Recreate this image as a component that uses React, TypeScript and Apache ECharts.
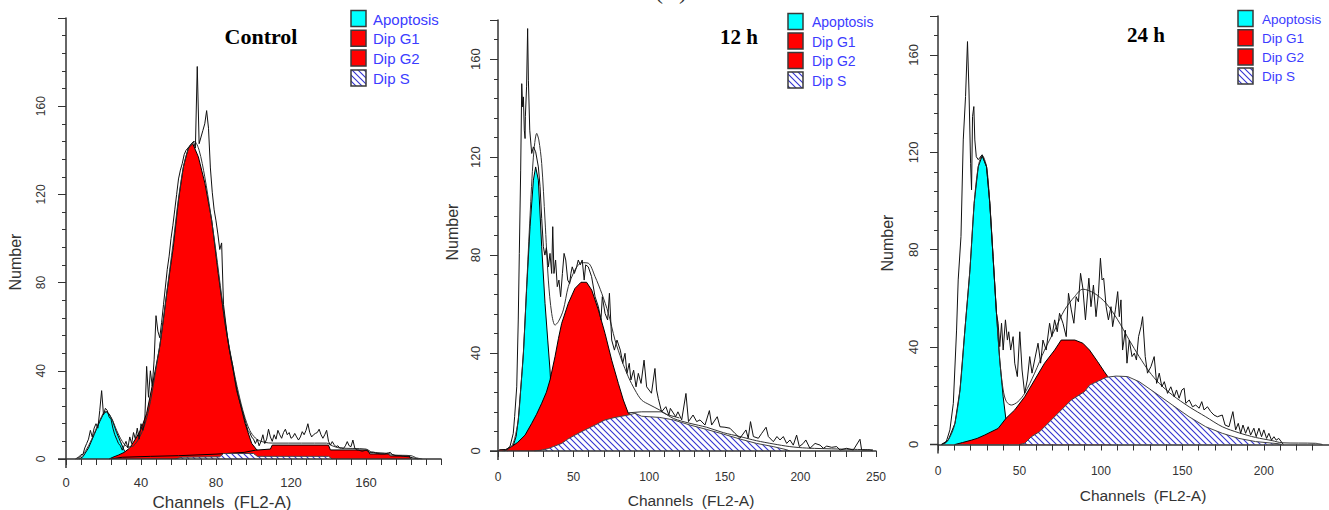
import React, { useEffect, useRef } from "react";
import * as echarts from "echarts";

// ---------- Control panel ----------
const ctrlXLabels = [0, 40, 80, 120, 160];
const ctrlYLabels = [0, 40, 80, 120, 160];
const ctrlApoptosis = [[7,0],[9,1],[12,5],[15,11],[18,17],[20,20.5],[21.5,21.5],[23,20.5],[25,17],[27,12],[29,8],[31,4],[33,1.5],[34,0]];
const ctrlG1 = [[23,0],[25,0.8],[28,1.8],[31,3],[34,5],[37.7,10],[40,13.5],[43,20.7],[46.6,35.8],[50,51],[53.7,75],[57.2,96],[60,117.5],[62.6,132.5],[65.2,141],[67.6,143],[70.6,137],[74.1,125],[77.7,108.4],[81.2,84],[84.8,61.5],[88.4,43.4],[92,28.3],[95.5,16.2],[99,7.1],[101.7,4.2],[104,3],[106,0]];
const ctrlG2 = [[24,0],[30,0.8],[45,1.2],[60,1.5],[80,2.2],[95,3],[101,4],[109,4.5],[110,6.3],[140,6.3],[141,4.1],[161,4.1],[162,2.3],[172,2.3],[173,1.4],[183,1.4],[184,0]];
const ctrlS = [[58,0],[62,0.8],[82,1],[84,2.5],[100,2.5],[102,1.2],[140,1.2],[142,0]];
const ctrlFit = [[6,0],[9,2],[12,6],[15,11.5],[18,17.5],[21,21.5],[24,19],[27,13],[30,8],[33,5.5],[36,6],[39,9.5],[42,15.5],[45,26],[48,41],[51,57],[54,77],[57,97],[60,118],[63,134],[66,142],[68.5,144],[71,140],[74,128],[77,112],[80,94],[83,74],[86,56],[89,42],[92,30],[95,20],[98,13],[101,9.5],[104,8],[108,7.3],[112,7.2],[139,7.2],[142,6],[146,5],[160,4.5],[163,3.2],[172,2.5],[175,1.8],[184,1.5],[187,0.5],[190,0]];
const ctrlRaw = [[5,0],[7,1],[8,2],[9,2],[10,5],[11,7],[12,9],[13,13],[14,10],[15,14],[16,16],[17,14],[18,22],[19,31],[20,20],[21,23],[22,22],[23,19],[24,18],[25,14],[26,11],[27,9],[28,7],[29,6],[30,4],[31,6],[32,8],[33,5],[34,10],[35,7],[36,12],[37,9],[38,14],[39,9],[40,16],[41,13],[42,17],[43,42],[44,28],[45,40],[46,33],[47,45],[48,65],[49,58],[50,55],[51,62],[52,70],[53,78],[54,86],[55,92],[56,100],[57,106],[58,113],[59,120],[60,127],[61,131],[62,134],[63,138],[64,140],[65,141],[66,142],[67,143],[68,144],[69,141],[70,178],[71,143],[72,146],[73,149],[74,152],[75,158],[76,150],[77,132],[78,121],[79,113],[80,108],[81,102],[82,95],[83,98],[84,70],[85,63],[86,56],[87,50],[88,46],[89,42],[90,36],[91,31],[92,28],[93,25],[94,22],[95,19],[96,16],[97,13],[98,12],[99,10],[100,9],[101,7],[102,9],[103,6],[104,8],[105,11],[106,7],[107,9],[108,13.5],[109,10],[110,8],[111,11],[112,9],[113,13],[114,11],[115,9.4],[116,12],[117,13.5],[118,11],[119,12],[120,9.4],[121,10],[122,11.6],[123,10],[124,8.6],[125,10],[126,12.4],[127,11],[128,13],[129,16],[130,12],[131,10],[132,11],[133,11.6],[134,12],[135,13.5],[136,11],[137,9.4],[138,11],[139,13],[140,8],[141,6.3],[142,7.9],[143,6.5],[144,5.6],[145,6],[146,5],[147,5],[148,4.8],[149,6],[150,7.9],[151,6],[152,5.6],[153,8.6],[154,5],[155,4.1],[156,4],[158,3.5],[160,4],[162,3],[164,3],[166,2.5],[168,2.3],[170,2.3],[172,2.8],[173,3],[174,2],[176,1.5],[178,1.5],[180,1.2],[183,1],[185,0.5],[188,0]];

// ---------- 12 h panel ----------
const h12XLabels = [0, 50, 100, 150, 200, 250];
const h12YLabels = [0, 40, 80, 120, 160];
const h12Apoptosis = [[6,0],[8,0.5],[10,2],[12,6],[13.4,12.7],[15,25],[16.8,40],[19,67],[21.2,91.6],[23.4,110.6],[24.9,116],[26.7,110.6],[28.9,83.4],[31.1,60.3],[32.9,45.3],[34.4,33.1],[35.5,20],[37,0]];
const h12G1 = [[0,0],[1,0.5],[5,0.6],[9,1.8],[13,3.5],[17.9,6.5],[22.3,11.3],[25.5,15],[28.9,19.5],[32,24],[34.4,29],[37.7,38.5],[40,46],[42.1,52.1],[46.5,60.3],[50.9,66.4],[54.9,68.9],[58.6,68.9],[62,65.7],[66.4,57.6],[70.8,48],[75.2,37.1],[79.6,27.6],[82.9,20.8],[86.2,15.4],[88,14.9],[90,0]];
const h12G2 = [[86,15.6],[95,16],[108,16],[112,14.8],[120,13.5]];
const h12S = [[24,0],[28,0.3],[33.3,1],[36.6,1.8],[42.1,3.1],[46,4.8],[50.9,6.5],[57.5,8.6],[64.2,10.6],[70.8,12.7],[77.4,13.7],[86.2,14.7],[90.6,15.4],[95,14.2],[107,13.7],[116,12.7],[127,10.6],[138,8.8],[149,6.9],[160,4.9],[171,3.1],[182,1.8],[191,0.5],[193,0]];
const h12Fit = [[3,0],[6,0.5],[9,2],[11,5],[13.4,12.7],[15,25],[16.8,40],[19,68],[21.2,96],[23.4,120],[25.6,129.7],[27,127],[28.9,117.4],[31.1,94.3],[33.3,69.8],[35.5,56.2],[37.7,51.4],[39.9,52.8],[43.2,57.6],[46.5,67.1],[50.9,73.9],[55.3,76.9],[59.7,76.7],[64.2,71.2],[68.6,64.4],[73,56.2],[77.4,45.3],[81.8,37.1],[86.2,30.3],[90.6,24.9],[95,20.8],[100.5,18.8],[107,16.7],[116,13.3],[127,11.3],[138,9.7],[149,7.5],[160,5.9],[171,4.2],[182,2.9],[193,1.8],[204,1.2],[226,0.8],[248,0.5]];
const h12Raw = [[4,0],[5.7,0.5],[8,2],[10.1,7.2],[11,14],[12.4,26.2],[13.4,53.5],[14.1,80.7],[15,114.7],[15.7,150],[16.3,140.5],[16.8,144.6],[17.4,131],[17.9,127.6],[18.1,136.5],[18.9,148.7],[19.6,172.5],[20.1,151.4],[21,131],[22.3,121.5],[23.4,124.2],[24.9,122.2],[26.7,116],[27.8,108],[28.9,95],[30,83.4],[31,80],[32,83],[33.3,75.2],[34.4,80.7],[35.5,72.5],[36.2,91.6],[37,72.5],[38.1,78],[39.2,67.1],[40.3,69.8],[41.4,63],[42.6,72.5],[43.7,80.7],[44.8,78],[46.1,69.8],[47.4,68.4],[48.2,72.5],[49.1,75.2],[50.5,72.5],[52,75.2],[53.1,78],[54.4,76],[55.7,78],[57,69.8],[58,76],[59.7,75.2],[61.9,71.2],[64.2,63],[66.4,58.9],[68.1,53.5],[69,63],[70.8,56.2],[72.5,53.5],[73.7,64.4],[75.2,45.3],[77,41.2],[78.7,45.3],[80.9,41.2],[82.5,35.8],[84,39.9],[85.3,31.7],[86.8,35.8],[87.9,29],[89.7,33],[91.3,26.2],[92.8,31.7],[94.6,27.6],[96.6,37.1],[98.3,26.2],[99.9,24.9],[101.5,23.6],[103.8,33.7],[104.9,24.9],[106,21.5],[108.2,16],[111,18.1],[113,14.7],[114,17.4],[117.5,14],[119,16],[121.5,12.7],[124.3,23.5],[126,12],[129,14.7],[131.4,12],[133.6,12.7],[136.9,10.6],[139.8,16.5],[141.3,10.6],[145,14],[146.8,9.9],[150.1,9.7],[153.4,9.3],[156.7,7.2],[160,5.2],[164,8.6],[165.5,5.2],[167,12],[168.9,5.9],[172.2,5.2],[174.4,7.2],[177.3,9.7],[178.8,5.9],[182.1,3.8],[184.5,5.9],[186.5,4.5],[188.7,5.9],[190.9,3.1],[193.1,4.5],[195.3,2.4],[197.5,6.5],[199.3,1.8],[201.9,3.1],[203.6,4.5],[206.3,1.1],[209.7,3.1],[213,2.4],[215.2,1.1],[217.4,2],[220.7,1.5],[224,1.8],[226.2,0.4],[230.6,1.1],[235,0.4],[239.4,4.8],[240.5,0.4],[246,0.4],[248,0]];

// ---------- 24 h panel ----------
const h24XLabels = [0, 50, 100, 150, 200];
const h24YLabels = [0, 40, 80, 120, 160];
const h24Apoptosis = [[2.2,0],[6.3,1.8],[10.4,8.7],[13.5,22.4],[16.5,47],[19.6,71.7],[22.2,99.1],[24.7,114.1],[27.1,118.5],[29.8,114.1],[31.8,99.1],[33.8,77.2],[35.9,53.9],[37.9,34.7],[40,19.6],[41.6,10.8],[42.5,4],[43,0]];
const h24G1 = [[10.4,0],[15,0.8],[20.6,1.8],[24,2.5],[28.7,3.9],[32,5],[36.9,6.6],[41.8,10.8],[47.1,14.2],[53.2,19.6],[59.3,26.5],[65.4,33.4],[71.6,38.8],[75.6,42.9],[84,42.9],[88.9,41.6],[93,38.8],[98,34],[102.1,29.9],[104.2,27.9],[106,0]];
const h24S = [[50,0],[53.2,0.5],[57.3,3.2],[62.4,5.3],[65.4,7.3],[73.6,12.8],[81.8,18.3],[89.9,21.7],[93,24.4],[103.2,27.6],[109.3,28.1],[116.4,27.9],[123.5,25.8],[133.8,21],[143.9,16.2],[154.1,11.4],[164.3,7.3],[174.5,4.6],[184.7,2.5],[194.9,1.2],[209.2,0.3],[211,0]];
const h24Fit = [[2,0],[5,0.8],[8,4],[10.4,8.7],[13.5,22.4],[16.5,47],[19.6,71.7],[22.2,99.1],[24.7,114.1],[27.1,118.8],[29.8,114.1],[31.8,99.1],[33.8,77.2],[35.9,53.9],[37.9,34.7],[40,22.4],[42,17.6],[45,16.2],[49.1,17.6],[53.2,21],[59.3,29.3],[65.4,38.8],[71.6,47],[77.7,55.3],[83.8,60.7],[88.9,63.8],[96,62.1],[103.2,58],[110.3,51.2],[117.4,42.9],[123.5,36.1],[129.7,29.9],[135.8,25.1],[143.9,20.3],[154.1,15.5],[164.3,11.4],[174.5,7.3],[184.7,4.8],[194.9,2.9],[205.1,1.6],[211.2,0.7],[231.6,0.5],[236,0]];
const h24Raw = [[2,0],[5,1],[7.3,6],[9.4,16.9],[11.4,47],[12.4,67.6],[14.1,85.4],[15.5,125.1],[16.9,142.9],[18.1,165.5],[19,145.6],[20,115.5],[20.6,104.6],[21.2,134.7],[22,138.8],[22.6,125.1],[23.5,118.2],[24.7,117],[27.1,119],[29.8,114],[31.8,99],[33.8,77],[35.9,53.9],[36.9,49.8],[37.9,40.2],[39,49.8],[40,38.8],[41.4,51.2],[42.6,42.9],[43.4,46.3],[44.6,38.8],[46.1,44.3],[47.1,33.4],[48.7,27.9],[50.2,46.3],[51.6,30.6],[53.2,21],[54.8,26.5],[56.3,36.1],[57.7,29.3],[59.3,34.7],[61.4,41.6],[63,33.4],[64.4,42.9],[66.4,38.8],[68.5,49.8],[69.9,44.3],[71.6,51.2],[73.2,46.3],[74.6,53.9],[76.7,49.8],[78.7,44.3],[80.1,62.1],[81.8,55.3],[83.4,49.8],[84.8,60.7],[86.2,58.6],[87.5,70.3],[88.9,64.2],[90.5,51.2],[92.6,68.3],[93.9,56.6],[95.4,65.5],[97,52.5],[98.5,62.1],[99.7,76.5],[100.7,67.6],[101.7,68.3],[103.2,56.6],[104.6,51.2],[106.2,56.6],[107.2,48.4],[108.9,55.3],[110.3,62.8],[111.3,52.5],[112.3,59.4],[113.3,38.8],[115,47],[116,33.4],[117.4,42.9],[119.1,36.1],[120.5,37.5],[121.8,34.7],[123.1,44.3],[124.6,48.4],[125.6,52.5],[127.2,36.1],[128.6,29.3],[130.7,32],[132.7,36.1],[134.2,25.1],[135.8,29.3],[137.4,23.7],[138.9,25.8],[140.9,21],[142.9,23.7],[145,19.6],[146.4,22.4],[148,19],[149.7,22.4],[151.1,23.1],[152.1,16.9],[154.2,18.3],[156.2,15.5],[158.2,16.2],[160.3,14.9],[161.9,17.6],[163.3,14.2],[165.4,15.5],[167.4,13.5],[169.4,12.1],[171.5,11.4],[174.5,12.1],[176.2,8],[178.6,7.3],[181,13.5],[182.7,6],[184.3,8.7],[185.8,4.6],[187.2,8],[188.8,4.6],[190.4,7.3],[191.9,3.9],[193.9,6.7],[195.3,3.2],[197,6.7],[198.6,3.2],[200,6],[201.7,2.5],[203.1,4.6],[204.7,1.8],[206.2,3.2],[207.6,1.8],[209.2,2.5],[211.2,0.7],[212,0]];

const legendNames = ["Apoptosis", "Dip G1", "Dip G2", "Dip S"];
const panelTitles = ["Control", "12 h", "24 h"];

const SANS = '"Liberation Sans", Arial, sans-serif';
const SERIF = '"Liberation Serif", "Times New Roman", serif';
const AXIS = "#333";
const CYAN = "#00ffff";
const RED = "#ff0000";
const LEGEND_TEXT = "#3c3cff";

function makeHatch() {
  const s = 6;
  const c = document.createElement("canvas");
  c.width = s;
  c.height = s;
  const g = c.getContext("2d")!;
  g.fillStyle = "#ffffff";
  g.fillRect(0, 0, s, s);
  g.strokeStyle = "#3434d0";
  g.lineWidth = 1.1;
  g.beginPath();
  g.moveTo(0, 0); g.lineTo(s, s);
  g.moveTo(-1, s - 1); g.lineTo(1, s + 1);
  g.moveTo(s - 1, -1); g.lineTo(s + 1, 1);
  g.stroke();
  return { image: c.toDataURL(), repeat: "repeat", imageWidth: s, imageHeight: s };
}

const panels = [
  {
    grid: { left: 66, top: 18, width: 375, height: 441 },
    xMax: 200, xStep: 8, xLabels: ctrlXLabels, xFs: 13, xMargin: 17,
    yMax: 200, yLabels: ctrlYLabels, yFs: 12, yMargin: 19,
    data: { apo: ctrlApoptosis, g1: ctrlG1, g2: ctrlG2, s: ctrlS, fit: ctrlFit, raw: ctrlRaw, g2Fill: true },
    title: { x: 261, y: 36, fs: 22 },
    yName: { x: 15, y: 262, fs: 16 },
    xName: { x: 222, y: 502, fs: 17 },
    legend: { x: 351, y: 10.5, dy: 19.8, fs: 15, tx: 373 },
  },
  {
    grid: { left: 498, top: 20, width: 378, height: 431 },
    xMax: 250, xStep: 10, xLabels: h12XLabels, xFs: 12, xMargin: 20,
    yMax: 176, yLabels: h12YLabels, yFs: 13, yMargin: 16,
    data: { apo: h12Apoptosis, g1: h12G1, g2: h12G2, s: h12S, fit: h12Fit, raw: h12Raw, g2Fill: false },
    title: { x: 739, y: 37, fs: 21 },
    yName: { x: 452, y: 232, fs: 16 },
    xName: { x: 691, y: 500, fs: 15.5 },
    legend: { x: 788, y: 13.5, dy: 19.5, fs: 14, tx: 812 },
  },
  {
    grid: { left: 938, top: 16, width: 391, height: 428.5 },
    xMax: 240, xStep: 10, xLabels: h24XLabels, xFs: 12, xMargin: 20,
    yMax: 176, yLabels: h24YLabels, yFs: 13, yMargin: 18,
    data: { apo: h24Apoptosis, g1: h24G1, g2: null as any, s: h24S, fit: h24Fit, raw: h24Raw, g2Fill: false },
    title: { x: 1146, y: 35, fs: 21 },
    yName: { x: 887, y: 243, fs: 16 },
    xName: { x: 1143, y: 495, fs: 15.5 },
    legend: { x: 1238, y: 10.5, dy: 19.2, fs: 13.5, tx: 1262 },
  },
];

function buildOption() {
  const hatch = makeHatch();
  const grid: any[] = [];
  const xAxis: any[] = [];
  const yAxis: any[] = [];
  const series: any[] = [];
  const graphic: any[] = [];

  panels.forEach((p, i) => {
    grid.push({ ...p.grid, containLabel: false, outerBoundsMode: "none" });
    xAxis.push({
      type: "value", gridIndex: i, min: 0, max: p.xMax, interval: p.xStep,
      position: "bottom", z: 20,
      axisLine: { show: true, onZero: false, lineStyle: { color: AXIS, width: 1.5 } },
      axisTick: { show: true, length: 6, lineStyle: { color: AXIS, width: 1 } },
      splitLine: { show: false },
      axisLabel: {
        show: true, margin: p.xMargin, fontSize: p.xFs, color: AXIS, fontFamily: SANS,
        formatter: (v: number) => (p.xLabels.includes(v) ? String(v) : ""),
      },
    });
    // minor ticks (every 8)
    yAxis.push({
      type: "value", gridIndex: i, min: 0, max: p.yMax, interval: 8, position: "left", z: 20,
      axisLine: { show: true, onZero: false, lineStyle: { color: AXIS, width: 1.5 } },
      axisTick: { show: true, length: 4, lineStyle: { color: AXIS, width: 1 } },
      axisLabel: { show: false },
      splitLine: { show: false },
    });
    // major ticks with labels (every 40)
    yAxis.push({
      type: "value", gridIndex: i, min: 0, max: p.yMax, interval: 40, position: "left", z: 20,
      axisLine: { show: false, onZero: false },
      axisTick: { show: true, length: 8, lineStyle: { color: AXIS, width: 1 } },
      splitLine: { show: false },
      axisLabel: {
        show: true, rotate: 90, margin: p.yMargin, fontSize: p.yFs, color: AXIS, fontFamily: SANS,
        formatter: (v: number) => (p.yLabels.includes(v) ? String(v) : ""),
      },
    });

    const xi = i;
    const yi = i * 2;
    const base = { type: "line", xAxisIndex: xi, yAxisIndex: yi, symbol: "none", showSymbol: false, silent: true, animation: false };
    series.push({ ...base, z: 2, name: "Apoptosis", data: p.data.apo, itemStyle: { color: CYAN }, lineStyle: { color: "#000", width: 1 }, areaStyle: { color: CYAN, opacity: 1 } });
    series.push({ ...base, z: 3, name: "Dip G1", data: p.data.g1, itemStyle: { color: RED }, lineStyle: { color: "#000", width: 1 }, areaStyle: { color: RED, opacity: 1 } });
    if (p.data.g2) {
      if (p.data.g2Fill) {
        series.push({ ...base, z: 4, name: "Dip G2", data: p.data.g2, itemStyle: { color: RED }, lineStyle: { color: "#000", width: 1 }, areaStyle: { color: RED, opacity: 1 } });
      } else {
        series.push({ ...base, z: 6, name: "Dip G2", data: p.data.g2, itemStyle: { color: RED }, lineStyle: { color: "#333", width: 1 } });
      }
    }
    series.push({ ...base, z: 5, name: "Dip S", data: p.data.s, itemStyle: { color: "#3434d0" }, lineStyle: { color: "#444", width: 1 }, areaStyle: { color: hatch, opacity: 1 } });
    series.push({ ...base, z: 7, name: "Fit", data: p.data.fit, smooth: 0.3, itemStyle: { color: "#333" }, lineStyle: { color: "#333", width: 1 } });
    series.push({ ...base, z: 8, name: "Data", data: p.data.raw, itemStyle: { color: "#111" }, lineStyle: { color: "#111", width: 1 } });

    // axis extensions past the origin
    const gx = p.grid.left;
    const gy = p.grid.top + p.grid.height;
    graphic.push({ type: "line", shape: { x1: gx - 8, y1: gy, x2: gx, y2: gy }, style: { stroke: AXIS, lineWidth: 1.5 }, silent: true });
    graphic.push({ type: "line", shape: { x1: gx, y1: gy, x2: gx, y2: gy + 9 }, style: { stroke: AXIS, lineWidth: 1.5 }, silent: true });

    // titles and axis names
    graphic.push({ type: "text", x: p.title.x, y: p.title.y, silent: true,
      style: { text: panelTitles[i], font: `bold ${p.title.fs}px ${SERIF}`, fill: "#000", align: "center", verticalAlign: "middle" } });
    graphic.push({ type: "text", x: p.yName.x, y: p.yName.y, rotation: Math.PI / 2, silent: true,
      style: { text: "Number", font: `${p.yName.fs}px ${SANS}`, fill: AXIS, align: "center", verticalAlign: "middle" } });
    graphic.push({ type: "text", x: p.xName.x, y: p.xName.y, silent: true,
      style: { text: "Channels  (FL2-A)", font: `${p.xName.fs}px ${SANS}`, fill: AXIS, align: "center", verticalAlign: "middle" } });

    // legend
    const fills = [CYAN, RED, RED, hatch];
    legendNames.forEach((nm, k) => {
      const yTop = p.legend.y + k * p.legend.dy;
      graphic.push({ type: "rect", shape: { x: p.legend.x, y: yTop, width: 15, height: 16 }, silent: true,
        style: { fill: fills[k], stroke: "#3a3a3a", lineWidth: 1.5 } });
      graphic.push({ type: "text", x: p.legend.tx, y: yTop + 8.5, silent: true,
        style: { text: nm, font: `${p.legend.fs}px ${SANS}`, fill: LEGEND_TEXT, align: "left", verticalAlign: "middle" } });
    });
  });

  // label of the figure part, cut by the top edge in the reference
  graphic.push({ type: "text", x: 671, y: 3, silent: true,
    style: { text: "(C)", font: `24px ${SERIF}`, fill: "#333", align: "center", verticalAlign: "bottom" } });

  return {
    animation: false,
    backgroundColor: "#ffffff",
    grid, xAxis, yAxis, series, graphic,
  };
}

export default function App() {
  const ref = useRef<HTMLDivElement>(null);
  useEffect(() => {
    const chart = echarts.init(ref.current!, null, { renderer: "svg" });
    chart.setOption(buildOption() as any);
    return () => chart.dispose();
  }, []);
  return (
    <div
      ref={ref}
      style={{ position: "absolute", left: 0, top: 0, width: 1329, height: 510, background: "#fff" }}
    />
  );
}
